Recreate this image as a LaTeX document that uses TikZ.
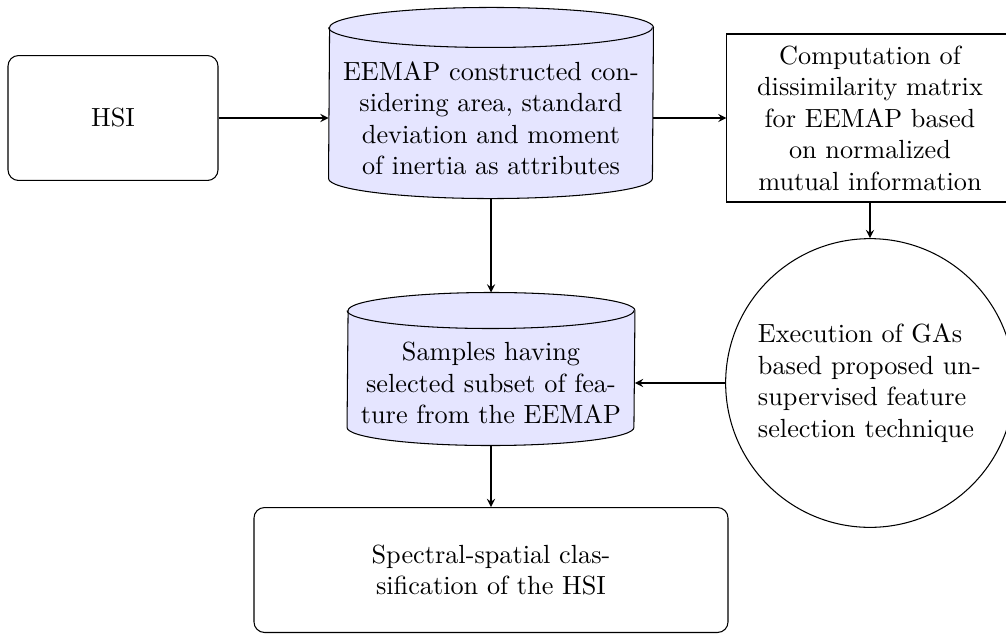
\documentclass[tikz,border=0pt]{standalone}
\usetikzlibrary{calc,arrows}
\newcommand{\mycyl}[3]{% node name, x radius, y radius (pt)
  \filldraw[cylstyle] ($(#1.south west)+(0pt,#3)$)
     arc[start angle=180,end angle=360,x radius=#2,y radius=#3]
     -- ($(#1.north east)+(0pt,-#3)$)
     arc[start angle=0,end angle=180,x radius=#2,y radius=#3] -- cycle;
  \draw[cylstyle,fill=none] ($(#1.north west)+(0pt,-#3)$)
     arc[start angle=180,end angle=360,x radius=#2,y radius=#3];
}
\begin{document}
\begin{tikzpicture}[x=0.381pt,y=-0.381pt,
  every node/.style={font=\normalsize},
  rbox/.style={draw,rectangle,rounded corners=4pt,align=center},
  pbox/.style={draw,rectangle,align=center},
  cylarea/.style={rectangle,inner sep=0pt},
  cylstyle/.style={draw,fill=blue!10},
  cyltext/.style={align=center,inner sep=0pt},
  gacircle/.style={draw,circle,align=left},
  conn/.style={-stealth}]
\useasboundingbox (0,0) rectangle (1006,634);
\node[rbox,minimum width=80pt,minimum height=47.6pt] (hsi) at (113,118) {HSI};
\node[cylarea,minimum width=123.4pt,minimum height=72.4pt] (eemap) at (491,103) {};
\mycyl{eemap}{61.7pt}{7.62pt}
\node[cyltext,text width=4cm] (eemaptext) at (491,118)
  {EEMAP constructed considering area, standard deviation and moment of inertia as attributes};
\node[pbox,text width=3.5cm,minimum width=109pt,minimum height=64pt] (comp) at (870,118)
  {Computation of dissimilarity matrix for EEMAP based on normalized mutual information};
\node[gacircle,text width=3cm,minimum size=110pt] (ga) at (870,383)
  {Execution of GAs based proposed unsupervised feature selection technique};
\node[cylarea,minimum width=109.3pt,minimum height=57.9pt] (samples) at (491,369) {};
\mycyl{samples}{54.65pt}{6.86pt}
\node[cyltext,text width=3.5cm] (samplestext) at (491,383)
  {Samples having selected subset of feature from the EEMAP};
\node[rbox,text width=4cm,minimum width=180.6pt,minimum height=47.6pt] (final) at (491,570)
  {Spectral-spatial classification of the HSI};
\draw[conn] (hsi.east) -- (hsi.east -| eemap.west);
\draw[conn] (comp.west -| eemap.east) -- (comp.west);
\draw[conn] (comp.south) -- (ga.north);
\draw[conn] (ga.west) -- (ga.west -| samples.east);
\draw[conn] (eemap.south) -- (samples.north);
\draw[conn] (samples.south) -- (final.north);
\end{tikzpicture}
\end{document}
